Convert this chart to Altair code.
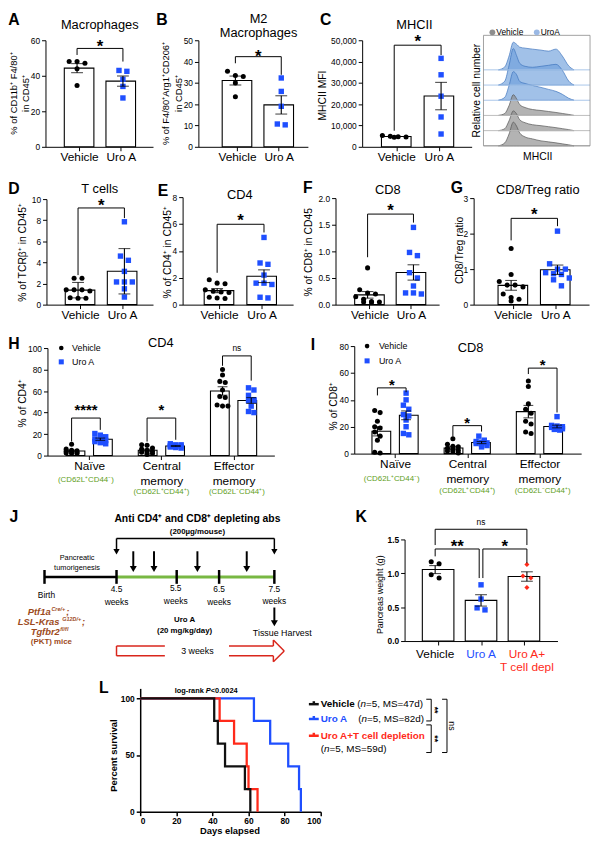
import altair as alt
import pandas as pd

W, H = 593, 834
M = 8
FONT = "Liberation Sans"
BLACK = "#000000"
BLUE = "#1f4fff"
RED = "#ff2a1a"
GREEN = "#5e9e22"
BROWN = "#9c4a1b"
ARROW_RED = "#d9261c"

# ----------------------------- data -----------------------------
A_VEH = [48, 48, 47, 44, 34.5]
A_URO = [43, 42.5, 38, 34, 27.5]
B_VEH = [35.5, 33.5, 33, 30, 23.5]
B_URO = [32.3, 26, 19, 10.3, 10.7]
C_VEH = [5300, 4900, 4700, 4500, 4600]
C_URO = [41500, 33800, 23750, 14000, 6000]
D_VEH = [2.5, 2.5, 1.4, 1.4, 1.4, 1.3, 0.6, 0.6, 0.65]
D_URO = [7.85, 4.6, 4.2, 3.15, 2.15, 2.15, 2.15, 1.5, 0.72]
E_VEH = [1.85, 1.6, 1.55, 1.1, 1.0, 0.95, 0.9, 0.5, 0.45, 0.55]
E_URO = [5.0, 3.1, 3.0, 2.2, 1.6, 1.6, 1.5, 0.55, 0.5]
F_VEH = [0.69, 0.28, 0.22, 0.2, 0.15, 0.1, 0.06, 0.05, 0.05, 0.04]
F_URO = [1.45, 0.98, 0.92, 0.6, 0.5, 0.35, 0.22, 0.2, 0.22]
G_VEH = [1.58, 0.85, 0.65, 0.55, 0.55, 0.5, 0.3, 0.2, 0.15, 0.1]
G_URO = [2.07, 1.15, 1.0, 1.0, 0.9, 0.87, 0.85, 0.75, 0.7, 0.53]

H_NAIVE_VEH = [10.5, 6, 5, 4.5, 4, 3.5, 3, 2.5, 2, 2]
H_NAIVE_URO = [20.5, 19, 17.5, 15.5, 14.5, 14, 13, 12, 11]
H_CM_VEH = [10, 9.5, 7, 6, 5, 4, 3, 2.5, 2, 1]
H_CM_URO = [11, 10, 10, 9, 9, 8.5, 8, 7.5, 7]
H_EM_VEH = [80, 75, 69, 68, 61, 55, 54, 47, 46, 46]
H_EM_URO = [63, 61, 56, 52, 51, 51, 46, 41, 40]

I_NAIVE_VEH = [32, 30.5, 24, 20, 19, 16, 13, 10, 1, 0.5]
I_NAIVE_URO = [45, 40, 36, 33, 29, 28, 25, 20, 15, 14]
I_CM_VEH = [11, 7, 5.5, 5, 4, 3, 2.5, 2, 1.5, 0.5]
I_CM_URO = [13, 10, 9, 8.5, 8, 7.5, 7, 6, 5]
I_EM_VEH = [54, 50, 37, 33, 30, 24, 22, 16, 15]
I_EM_URO = [27.5, 21, 20.5, 20, 19.5, 19, 18.5, 18, 17.5]

K_VEH = [1.14, 1.17, 0.93, 0.98]
K_URO = [0.83, 0.62, 0.49, 0.46]
K_TDEPL = [1.13, 0.96, 0.93, 0.79]

L_VEH = [41, 43, 47, 58, 61]
L_URO = [63, 72, 82, 88, 89]
L_COMBO = [44, 52, 59, 60, 65]

HIST_X = [14, 20, 24, 28, 31, 34, 39, 46, 54, 61, 68, 74, 80, 85]
URO_HIST = [
    [0, 3, 14, 28, 26, 23, 22, 21, 20, 19, 21, 14, 4, 0],
    [0, 4, 20, 37, 30, 22, 19, 18, 19, 20, 21, 15, 4, 0],
    [0, 3, 15, 29, 26, 19, 17, 15, 13, 11, 9, 6, 2, 0],
]
VEH_HIST = [
    [0, 2, 10, 21, 17, 11, 8, 6, 5, 4, 3, 2, 1, 0],
    [0, 2, 10, 20, 17, 11, 8, 6, 5, 4, 3, 2, 1, 0],
    [0, 3, 12, 24, 20, 13, 9, 7, 5, 4, 3, 2, 1, 0],
]

# ----------------------------- helpers -----------------------------
STYLES = {
    "veh": dict(shape="circle", color=BLACK, size=26),
    "uro": dict(shape="square", color=BLUE, size=30),
    "tdepl": dict(shape="diamond", color=RED, size=26),
}


def P(v):
    return v - M


PXS = alt.Scale(domain=[0, W], range=[0, W], nice=False, zero=False)
PYS = alt.Scale(domain=[0, H], range=[0, H], nice=False, zero=False)

layers = []


def swarm(vals, ppu, d, kmax):
    order = sorted(range(len(vals)), key=lambda i: -vals[i])
    offs = [0.0] * len(vals)
    rows, row = [], []
    for i in order:
        if row and ((vals[row[0]] - vals[i]) * ppu >= d * 0.8 or len(row) >= kmax):
            rows.append(row)
            row = []
        row.append(i)
    if row:
        rows.append(row)
    for r in rows:
        k = len(r)
        for j, i in enumerate(r):
            offs[i] = (j - (k - 1) / 2) * d
    return offs


def text_layer(items, size, weight="normal", style="normal", align="center",
               baseline="middle", angle=0, dy=0, xscale=None, yscale=None):
    rows = []
    for it in items:
        t, x, y = it[0], it[1], it[2]
        col = it[3] if len(it) > 3 else BLACK
        rows.append({"t": t,
                     "x": x if xscale is not None else P(x),
                     "y": y if yscale is not None else P(y),
                     "col": col})
    mk = dict(font=FONT, fontSize=size, fontWeight=weight, fontStyle=style,
              align=align, baseline=baseline, angle=angle)
    if dy:
        mk["dy"] = dy
    return alt.Chart(pd.DataFrame(rows)).mark_text(**mk).encode(
        x=alt.X("x:Q", scale=xscale if xscale is not None else PXS, axis=None),
        y=alt.Y("y:Q", scale=yscale if yscale is not None else PYS, axis=None),
        text="t:N",
        color=alt.Color("col:N", scale=None),
    )


def seg_layer(items, color=BLACK, width=1.0, xscale=None, yscale=None):
    rows = []
    for a, b, c, d in items:
        if xscale is None:
            a, c = P(a), P(c)
        if yscale is None:
            b, d = P(b), P(d)
        rows.append({"x": a, "y": b, "x2": c, "y2": d})
    return alt.Chart(pd.DataFrame(rows)).mark_rule(color=color, strokeWidth=width).encode(
        x=alt.X("x:Q", scale=xscale if xscale is not None else PXS, axis=None),
        y=alt.Y("y:Q", scale=yscale if yscale is not None else PYS, axis=None),
        x2="x2:Q", y2="y2:Q",
    )


def sym_layer(items, shape, size, color):
    df = pd.DataFrame([{"x": P(x), "y": P(y)} for x, y in items])
    return alt.Chart(df).mark_point(shape=shape, size=size, filled=True, color=color,
                                    opacity=1, strokeWidth=0).encode(
        x=alt.X("x:Q", scale=PXS, axis=None), y=alt.Y("y:Q", scale=PYS, axis=None))


def x_axis(geo, values, expr=None, labels=True, size=12, bold=False, line_h=None, width=1.0):
    kw = dict(orient="bottom", offset=P(geo["y1"]) - H, values=list(values), title=None,
              grid=False, tickSize=4, tickWidth=width, domainWidth=width, labelFontSize=size,
              labelPadding=1, labelAngle=0, labelOverlap=False, labels=labels, labelFont=FONT,
              labelColor=BLACK, domainColor=BLACK, tickColor=BLACK)
    if expr:
        kw["labelExpr"] = expr
    if line_h:
        kw["labelLineHeight"] = line_h
    if bold:
        kw["labelFontWeight"] = "bold"
    return alt.Axis(**kw)


def y_axis(geo, values, fmt, bold=False, width=1.0):
    kw = dict(orient="left", offset=-P(geo["x0"]), values=list(values), format=fmt, title=None,
              grid=False, tickSize=4, tickWidth=width, domainWidth=width, labelFontSize=8.5,
              labelPadding=2, labelFont=FONT, labelColor=BLACK, domainColor=BLACK,
              tickColor=BLACK)
    if bold:
        kw["labelFontWeight"] = "bold"
    return alt.Axis(**kw)


def bar_panel(series, geo, ydom, yticks, yfmt, err="stderr", barw=30, capw=12, d=8, kmax=4,
              xvalues=(0, 1), expr="datum.value == 0 ? 'Vehicle' : 'Uro A'", xlabels=True,
              ybold=False, line_h=None, brackets=(), stars=(), ns=(), star_size=17):
    u = geo["c1"] - geo["c0"]
    xs = alt.Scale(domain=[(geo["x0"] - geo["c0"]) / u, (geo["x1"] - geo["c0"]) / u],
                   range=[P(geo["x0"]), P(geo["x1"])], nice=False, zero=False)
    ys = alt.Scale(domain=ydom, range=[P(geo["y1"]), P(geo["y0"])], nice=False, zero=False)
    ppu = (geo["y1"] - geo["y0"]) / (ydom[1] - ydom[0])
    raw, pts = [], {}
    for pos, vals, style in series:
        raw += [{"c": pos, "v": v} for v in vals]
        for v, o in zip(vals, swarm(vals, ppu, d, kmax)):
            pts.setdefault(style, []).append({"x": pos + o / u, "v": v})
    base = alt.Chart(pd.DataFrame(raw))
    out = []
    out.append(base.transform_aggregate(m="mean(v)", groupby=["c"]).mark_bar(
        size=barw, fill="white", stroke=BLACK, strokeWidth=1.1, orient="vertical").encode(
        x=alt.X("c:Q", scale=xs, axis=x_axis(geo, xvalues, expr, labels=xlabels, line_h=line_h)),
        y=alt.Y("m:Q", scale=ys, axis=y_axis(geo, yticks, yfmt, bold=ybold)),
    ))
    for style, rows in pts.items():
        st = STYLES[style]
        out.append(alt.Chart(pd.DataFrame(rows)).mark_point(
            shape=st["shape"], size=st["size"], color=st["color"], filled=True, opacity=1,
            strokeWidth=0).encode(
            x=alt.X("x:Q", scale=xs, axis=None), y=alt.Y("v:Q", scale=ys, axis=None)))
    agg = base.transform_aggregate(m="mean(v)", s=f"{err}(v)", groupby=["c"]).transform_calculate(
        lo="datum.m - datum.s", hi="datum.m + datum.s")
    out.append(agg.mark_rule(color=BLACK, strokeWidth=1.1).encode(
        x=alt.X("c:Q", scale=xs, axis=None), y=alt.Y("lo:Q", scale=ys, axis=None), y2="hi:Q"))
    out.append(agg.transform_fold(["lo", "hi"], as_=["k", "e"]).mark_tick(
        orient="horizontal", size=capw, thickness=1.1, color=BLACK).encode(
        x=alt.X("c:Q", scale=xs, axis=None), y=alt.Y("e:Q", scale=ys, axis=None)))
    if brackets:
        segs = []
        for xa, xb, yb, yl, yr in brackets:
            segs += [(xa, yb, xb, yb), (xa, yb, xa, yl), (xb, yb, xb, yr)]
        out.append(seg_layer(segs, xscale=xs, yscale=ys))
    if stars:
        out.append(text_layer([(t, x, y) for x, y, t in stars], star_size, weight="bold",
                              dy=5, xscale=xs, yscale=ys))
    if ns:
        out.append(text_layer([(t, x, y) for x, y, t in ns], 8.5, xscale=xs, yscale=ys))
    return out, xs, ys


# ----------------------------- panels A-G -----------------------------
TWO = lambda veh, uro: [(0, veh, "veh"), (1, uro, "uro")]

pA, _, _ = bar_panel(TWO(A_VEH, A_URO), dict(x0=46, x1=155, c0=78, c1=124.5, y0=35, y1=143),
                     [0, 60], [0, 20, 40, 60], "d",
                     brackets=[(0, 1, 55.4, 51.7, 48.0)], stars=[(0.5, 58.9, "*")])
pB, _, _ = bar_panel(TWO(B_VEH, B_URO), dict(x0=201, x1=312, c0=238.5, c1=285, y0=35, y1=143),
                     [0, 50], [0, 10, 20, 30, 40, 50], "d",
                     brackets=[(0, 1, 42.3, 39.2, 33.8)], stars=[(0.5, 44.6, "*")])
pC, _, _ = bar_panel(TWO(C_VEH, C_URO), dict(x0=367, x1=478, c0=399.5, c1=447, y0=35, y1=143),
                     [0, 50000], [0, 10000, 20000, 30000, 40000, 50000], ",.0f",
                     brackets=[(0, 1, 47685, 7546, 43055)], stars=[(0.5, 51250, "*")])
pD, _, _ = bar_panel(TWO(D_VEH, D_URO), dict(x0=47, x1=155, c0=79, c1=126, y0=196, y1=303),
                     [0, 10], [0, 2, 4, 6, 8, 10], "d", err="stdev",
                     brackets=[(0, 1, 9.16, 2.8, 8.2)], stars=[(0.5, 9.8, "*")])
pE, _, _ = bar_panel(TWO(E_VEH, E_URO), dict(x0=185, x1=297, c0=220, c1=267.5, y0=194, y1=303),
                     [0, 8], [0, 2, 4, 6, 8], "d",
                     brackets=[(0, 1, 5.98, 2.37, 5.37)], stars=[(0.5, 6.6, "*")])
pF, _, _ = bar_panel(TWO(F_VEH, F_URO), dict(x0=340, x1=445, c0=372.5, c1=419, y0=195, y1=303),
                     [0, 2], [0, 0.5, 1.0, 1.5, 2.0], ".1f",
                     brackets=[(0, 1, 1.70, 0.89, 1.54)], stars=[(0.5, 1.85, "*")])
pG, _, _ = bar_panel(TWO(G_VEH, G_URO), dict(x0=480, x1=597, c0=518, c1=565, y0=195, y1=303),
                     [0, 3], [0, 1, 2, 3], "d",
                     brackets=[(0, 1, 2.43, 1.81, 2.21)], stars=[(0.5, 2.67, "*")])
for p in (pA, pB, pC, pD, pE, pF, pG):
    layers += p

# ----------------------------- panels H, I -----------------------------
SUB = 0.19
MEM_EXPR = ("datum.value == 0 ? 'Naïve' : (datum.value == 1 ? ['Central', 'memory'] : "
            "['Effector', 'memory'])")


def three(nv, nu, cv, cu, ev, eu):
    return [(0 - SUB, nv, "veh"), (0 + SUB, nu, "uro"), (1 - SUB, cv, "veh"),
            (1 + SUB, cu, "uro"), (2 - SUB, ev, "veh"), (2 + SUB, eu, "uro")]


pH, hxs, _ = bar_panel(three(H_NAIVE_VEH, H_NAIVE_URO, H_CM_VEH, H_CM_URO, H_EM_VEH, H_EM_URO),
                       dict(x0=48, x1=278, c0=87, c1=163.5, y0=347, y1=456),
                       [0, 100], [0, 20, 40, 60, 80, 100], "d", barw=19, capw=10, d=5.5, kmax=3,
                       xvalues=(0, 1, 2), expr=MEM_EXPR, line_h=15,
                       brackets=[(-SUB, SUB, 34.9, 13.1, 23.9), (1 - SUB, 1 + SUB, 34.9, 13, 14.7),
                                 (2 - SUB, 2 + SUB, 92.7, 83.5, 69.7)],
                       stars=[(0, 46.8, "****"), (1, 46.8, "*")], ns=[(2, 100.3, "ns")],
                       star_size=15)
pI, ixs, _ = bar_panel(three(I_NAIVE_VEH, I_NAIVE_URO, I_CM_VEH, I_CM_URO, I_EM_VEH, I_EM_URO),
                       dict(x0=359, x1=589, c0=397, c1=473.5, y0=345, y1=454),
                       [0, 80], [0, 20, 40, 60, 80], "d", barw=19, capw=10, d=5.5, kmax=3,
                       xvalues=(0, 1, 2), expr=MEM_EXPR, line_h=15,
                       brackets=[(-SUB, SUB, 48.9, 43.3, 45.7), (1 - SUB, 1 + SUB, 20.8, 12.7, 16.4),
                                 (2 - SUB, 2 + SUB, 63.6, 59.2, 30.6)],
                       stars=[(0, 54.3, "*"), (1, 26.2, "*"), (2, 69.7, "*")], star_size=15)
layers += pH + pI
layers.append(text_layer([("(CD62L⁺CD44⁻)", 0, 481, GREEN), ("(CD62L⁺CD44⁺)", 1, 493, GREEN),
                          ("(CD62L⁻CD44⁺)", 2, 493, GREEN)], 8, xscale=hxs))
layers.append(text_layer([("(CD62L⁺CD44⁻)", 0, 480, GREEN), ("(CD62L⁺CD44⁺)", 1, 492, GREEN),
                          ("(CD62L⁻CD44⁺)", 2, 492, GREEN)], 8, xscale=ixs))

# ----------------------------- panel K -----------------------------
pK, kxs, _ = bar_panel([(0, K_VEH, "veh"), (1, K_URO, "uro"), (2, K_TDEPL, "tdepl")],
                       dict(x0=410, x1=565, c0=441, c1=487.5, y0=541, y1=644),
                       [0, 1.5], [0, 0.5, 1.0, 1.5], ".1f", barw=32, capw=12, d=8,
                       xvalues=(0, 1, 2), expr=None, xlabels=False, ybold=True,
                       brackets=[(0, 0.96, 1.359, 1.25, 0.93), (1.04, 2, 1.359, 0.93, 1.15),
                                 (0, 2, 1.65, 1.417, 1.417)],
                       stars=[(0.48, 1.456, "**"), (1.52, 1.456, "*")], ns=[(1, 1.76, "ns")])
layers += pK
layers.append(text_layer([("Vehicle", 0, 657, BLACK), ("Uro A", 1, 657, BLUE),
                          ("Uro A+", 2, 657, RED), ("T cell depl", 2, 670, RED)], 12, xscale=kxs))

# ----------------------------- histogram (C right) -----------------------------
HX0, HX1, HY0, HY1 = 490, 598, 30, 142
ROW_PX = 15.4
hist_top = (HY1 - HY0) / ROW_PX
hist_xs = alt.Scale(domain=[0, 100], range=[P(HX0), P(HX1)], nice=False, zero=False)
hist_ys = alt.Scale(domain=[0, hist_top], range=[P(HY1), P(HY0)], nice=False, zero=False)
curves = [(5, URO_HIST[0], "u"), (4, URO_HIST[1], "u"), (3, URO_HIST[2], "u"),
          (2, VEH_HIST[0], "v"), (1, VEH_HIST[1], "v"), (0, VEH_HIST[2], "v")]
for base_row, hs, kind in curves:
    fill, stroke = ("#6f9fdc", "#3f74bd") if kind == "u" else ("#8a8a8a", "#555555")
    layers.append(alt.Chart(pd.DataFrame({"x": HIST_X, "h": hs})).transform_calculate(
        top=f"{base_row} + datum.h / {ROW_PX}", bot=f"{base_row}").mark_area(
        interpolate="monotone", fill=fill, fillOpacity=0.65, stroke=stroke, strokeWidth=0.7).encode(
        x=alt.X("x:Q", scale=hist_xs, axis=None), y=alt.Y("top:Q", scale=hist_ys, axis=None),
        y2="bot:Q"))
base_df = pd.DataFrame({"x": [0] * 6, "x2": [100] * 6, "y": [0, 1, 2, 3, 4, 5],
                        "col": ["#bdbdbd", "#bdbdbd", "#bdbdbd", "#a9c6ea", "#a9c6ea", "#a9c6ea"]})
layers.append(alt.Chart(base_df).mark_rule(strokeWidth=1).encode(
    x=alt.X("x:Q", scale=hist_xs, axis=None), x2="x2:Q",
    y=alt.Y("y:Q", scale=hist_ys, axis=None), color=alt.Color("col:N", scale=None)))
layers.append(alt.Chart(pd.DataFrame({"x": [0], "x2": [100], "y": [0], "y2": [hist_top]})).mark_rect(
    fillOpacity=0, stroke="#8a8a8a", strokeWidth=0.8).encode(
    x=alt.X("x:Q", scale=hist_xs, axis=None), x2="x2:Q",
    y=alt.Y("y:Q", scale=hist_ys, axis=None), y2="y2:Q"))

# ----------------------------- panel L -----------------------------
Lgeo = dict(x0=142, x1=325, y0=692, y1=817)
l_xs = alt.Scale(domain=[0, 100], range=[P(142), P(325)], nice=False, zero=False)
l_ys = alt.Scale(domain=[0, 108.7], range=[P(817), P(692)], nice=False, zero=False)


def km(times):
    n = len(times)
    rows = [{"t": 0, "s": 100.0}]
    for i, t in enumerate(sorted(times)):
        rows.append({"t": t, "s": 100.0 * (n - i - 1) / n})
    return pd.DataFrame(rows)


first = True
for times, col in [(L_URO, BLUE), (L_COMBO, RED), (L_VEH, "#111111")]:
    if first:
        xa = x_axis(Lgeo, [0, 20, 40, 60, 80, 100], size=8.5, bold=True, width=1.5)
        ya = y_axis(Lgeo, [0, 50, 100], "d", bold=True, width=1.5)
    else:
        xa, ya = None, None
    first = False
    layers.append(alt.Chart(km(times)).mark_line(
        interpolate="step-after", strokeWidth=2.3, color=col).encode(
        x=alt.X("t:Q", scale=l_xs, axis=xa), y=alt.Y("s:Q", scale=l_ys, axis=ya)))

# ----------------------------- annotation -----------------------------
layers.append(text_layer([
    ("A", 14, 15), ("B", 164, 15), ("C", 330, 15), ("D", 14, 186), ("E", 165, 188),
    ("F", 312, 185), ("G", 463, 185), ("H", 14, 343), ("I", 317, 344), ("J", 14, 518),
    ("K", 366, 518), ("L", 105, 692)], 16, weight="bold"))
layers.append(text_layer([
    ("Macrophages", 101, 20), ("M2", 262, 14), ("Macrophages", 262, 28), ("MHCII", 420, 20),
    ("T cells", 101, 186), ("CD4", 243, 192), ("CD8", 393, 187), ("CD8/Treg ratio", 545, 187),
    ("CD4", 163, 342), ("CD8", 477, 347)], 13))
layers.append(text_layer([
    ("% of CD11b⁺ F4/80⁺", 14, 89), ("in CD45⁺", 26, 89),
    ("% of F4/80⁺Arg1⁺CD206⁺", 168, 89), ("in CD45⁺", 181, 89)], 9.5, angle=270))
layers.append(text_layer([
    ("MHCII MFI", 327, 91), ("% of TCRβ⁺ in CD45⁺", 23, 250), ("% of CD4⁺ in CD45⁺", 170, 250),
    ("% of CD8⁺ in CD45", 313, 250), ("CD8/Treg ratio", 466, 248), ("% of CD4⁺", 23, 403),
    ("% of CD8⁺", 338, 406), ("Relative cell number", 483, 86)], 10.5, angle=270))
layers.append(text_layer([("Pancreas weight (g)", 385, 597)], 9, angle=270))
layers.append(text_layer([("Percent survival", 115, 760)], 9.5, weight="bold", angle=270))
layers.append(text_layer([("MHCII", 545, 153)], 10.5))
layers.append(text_layer([("Days elapsed", 233, 842)], 9.5, weight="bold", baseline="bottom"))

# histogram legend
layers.append(sym_layer([(499, 27)], "circle", 35, "#8e8e8e"))
layers.append(sym_layer([(544, 27)], "circle", 35, "#9ab8e4"))
layers.append(text_layer([("Vehicle", 503, 27), ("UroA", 548, 27)], 8.5, align="left"))

# H / I legends
layers.append(sym_layer([(62, 347), (372, 345)], "circle", 22, BLACK))
layers.append(sym_layer([(62, 361), (372, 360)], "square", 26, BLUE))
layers.append(text_layer([("Vehicle", 73, 347), ("Uro A", 73, 361), ("Vehicle", 384, 345),
                          ("Uro A", 384, 360)], 9, align="left"))

# ----------------------------- panel J (schematic) -----------------------------
layers.append(seg_layer([(118, 540, 278, 540), (118, 540, 118, 551), (278, 540, 278, 551)],
                        width=1.5))
layers.append(seg_layer([(x, 553, x, 568) for x in (135, 156, 200, 250)] + [(278, 610, 278, 624)],
                        width=2))
layers.append(sym_layer([(118, 553.5), (278, 553.5)], "triangle-down", 40, BLACK))
layers.append(sym_layer([(135, 571), (156, 571), (200, 571), (250, 571), (278, 626)],
                        "triangle-down", 50, BLACK))
layers.append(seg_layer([(118, 579, 278, 579)], color="#78b843", width=3))
layers.append(seg_layer([(45, 579, 118, 579)], width=2.5))
layers.append(seg_layer([(x, 572, x, 586) for x in (45, 118, 179, 222, 278)], width=2.5))
layers.append(seg_layer([
    (118, 649, 167, 649), (118, 659, 167, 659), (118, 649, 118, 659),
    (232, 649, 277, 649), (277, 649, 277, 643), (277, 643, 288, 654),
    (288, 654, 277, 665), (277, 665, 277, 659), (277, 659, 232, 659)], color=ARROW_RED, width=1.5))
layers.append(text_layer([("Anti CD4⁺ and CD8⁺ depleting abs", 200, 520)], 10.5, weight="bold"))
layers.append(text_layer([("(200µg/mouse)", 200, 533), ("Uro A", 187, 623),
                          ("(20 mg/kg/day)", 187, 634)], 8, weight="bold"))
layers.append(text_layer([("Pancreatic", 78, 560), ("tumorigenesis", 78, 570)], 7.5))
layers.append(text_layer([
    ("Birth", 47, 597), ("4.5", 118, 591), ("weeks", 118, 604), ("5.5", 178, 590),
    ("weeks", 178, 603), ("6.5", 222, 591), ("weeks", 222, 604), ("7.5", 278, 591),
    ("weeks", 278, 603)], 8.5))
layers.append(text_layer([("Tissue Harvest", 286, 636), ("3 weeks", 200, 654)], 9))
layers.append(text_layer([("Ptf1a", 28, 615, BROWN), ("LSL-Kras", 18, 625, BROWN),
                          ("Tgfbr2", 31, 635, BROWN), (";", 67, 615, BROWN), (";", 83, 625, BROWN)],
                         9.5, weight="bold", style="italic", align="left"))
layers.append(text_layer([("Cre/+", 52, 612, BROWN), ("G12D/+", 63, 622, BROWN),
                          ("fl/fl", 61, 632, BROWN)], 5.5, weight="bold", style="italic",
                         align="left"))
layers.append(text_layer([("(PKT) mice", 52, 645, BROWN)], 8, weight="bold"))

# ----------------------------- panel L annotation -----------------------------
layers.append(text_layer([("log-rank", 177, 695), ("<0.0024", 213.5, 695)], 7.5, weight="bold",
                         align="left"))
layers.append(text_layer([("P", 208.5, 695)], 7.5, weight="bold", style="italic", align="left"))
layers.append(seg_layer([(313, 708, 323, 708), (318, 705, 318, 708)], color="#111111", width=2.5))
layers.append(seg_layer([(313, 723, 323, 723), (318, 720, 318, 723)], color=BLUE, width=2.5))
layers.append(seg_layer([(313, 740, 323, 740), (318, 737, 318, 740)], color=RED, width=2.5))
layers.append(text_layer([("Vehicle", 325, 708, BLACK), ("Uro A", 325, 723, BLUE),
                          ("Uro A+T cell depletion", 325, 740, RED)], 10, weight="bold",
                         align="left"))
layers.append(text_layer([("(", 362, 708), ("=5, MS=47d)", 370.9, 708), ("(", 363, 723),
                          ("=5, MS=82d)", 371.9, 723), ("(", 325, 753), ("=5, MS=59d)", 333.9, 753)],
                         10, align="left"))
layers.append(text_layer([("n", 365.3, 708), ("n", 366.3, 723), ("n", 328.3, 753)], 10,
                         style="italic", align="left"))
layers.append(seg_layer([
    (432, 703, 437, 703), (437, 703, 437, 725), (432, 725, 437, 725),
    (432, 729, 437, 729), (437, 729, 437, 757), (432, 757, 437, 757),
    (448, 703, 453, 703), (453, 703, 453, 757), (448, 757, 453, 757)], width=1))
layers.append(text_layer([("**", 441, 714), ("**", 441, 743)], 9, weight="bold", angle=90))
layers.append(text_layer([("ns", 458, 730)], 9, angle=90))

chart = alt.layer(*layers).resolve_scale(x="independent", y="independent").properties(
    width=W, height=H, padding=0, autosize=alt.AutoSizeParams(type="none")
).configure_view(strokeWidth=0).configure_axis(labelFont=FONT, titleFont=FONT)

chart.save("out.html", embed_options={"renderer": "svg", "actions": False})
